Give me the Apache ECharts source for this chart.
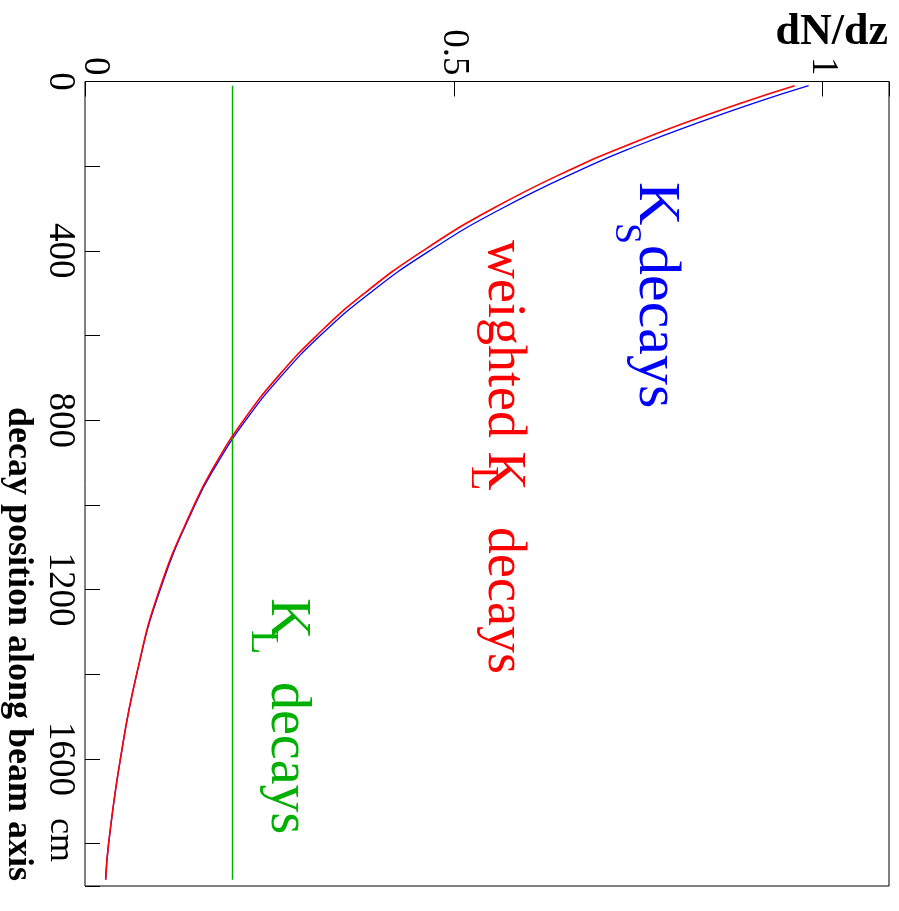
<!DOCTYPE html>
<html><head><meta charset="utf-8">
<script src="https://cdn.jsdelivr.net/npm/echarts@6/dist/echarts.min.js"></script>
<style>html,body{margin:0;padding:0;background:#fff}#c{width:899px;height:911px}</style>
</head><body><div id="c"></div>
<script>
// decay position along beam axis (cm)
const zPos = [10, 50, 100, 150, 200, 300, 400, 500, 600, 700, 800, 900, 1000, 1200, 1400, 1600, 1800, 1885];
// dN/dz, K_S decays (blue)
const ksDecays = [0.981, 0.909, 0.827, 0.751, 0.683, 0.565, 0.467, 0.386, 0.319, 0.264, 0.218, 0.180, 0.149, 0.102, 0.070, 0.048, 0.032, 0.028];
// dN/dz, weighted K_L decays (red)
const weightedKlDecays = [0.962, 0.891, 0.810, 0.736, 0.668, 0.553, 0.458, 0.379, 0.314, 0.260, 0.215, 0.178, 0.148, 0.101, 0.070, 0.048, 0.032, 0.028];
// K_L decays (green)
const klPos = [10, 400, 800, 1200, 1600, 1885];
const klDecays = [0.2, 0.2, 0.2, 0.2, 0.2, 0.2];
// tick labels
const dnTickLabels = {0: '{zero|0}', 0.5: '0.5', 1: '1'};
const zTickLabels = {0: '0', 400: '400', 800: '800', 1200: '1200', 1600: '1600'};

const SERIF = '"Liberation Serif", "DejaVu Serif", serif';
function pairs(zs, vs) { return zs.map((z, i) => [vs[i], z]); }

// rotated (reading top-to-bottom) text: baselineX = screen x of baseline, startY = screen y of start
function vtext(text, baselineX, startY, size, color, weight) {
  return {
    type: 'text',
    x: baselineX + 0.305 * size,
    y: startY,
    rotation: -Math.PI / 2,
    silent: true,
    style: {
      text: text,
      fill: color,
      font: (weight || 'normal') + ' ' + size + 'px ' + SERIF,
      textAlign: 'left',
      textVerticalAlign: 'middle',
      verticalAlign: 'middle'
    }
  };
}

const chart = echarts.init(document.getElementById('c'), null, {renderer: 'canvas'});
chart.setOption({
  animation: false,
  backgroundColor: '#fff',
  grid: {left: 85, right: 10, top: 81.5, bottom: 25, show: true, borderColor: '#000', borderWidth: 1, backgroundColor: 'transparent'},
  xAxis: {
    type: 'value', position: 'top', min: 0, max: 1.09, interval: 0.5,
    axisLine: {show: false},
    splitLine: {show: false},
    axisTick: {show: true, inside: true, length: 15, lineStyle: {color: '#000', width: 1}},
    axisLabel: {
      rotate: -90, margin: 6, color: '#000', fontFamily: SERIF, fontSize: 37,
      formatter: v => (dnTickLabels[v] !== undefined ? dnTickLabels[v] : ''),
      rich: {zero: {fontFamily: SERIF, fontSize: 37, color: '#000', padding: [0, 0, 20, 0]}}
    }
  },
  yAxis: {
    type: 'value', inverse: true, min: 0, max: 1900, interval: 200,
    axisLine: {show: false},
    splitLine: {show: false},
    axisTick: {show: true, inside: true, length: 15, lineStyle: {color: '#000', width: 1}},
    axisLabel: {
      rotate: -90, margin: 7, color: '#000', fontFamily: SERIF, fontSize: 37,
      formatter: v => (zTickLabels[v] !== undefined ? zTickLabels[v] : '')
    }
  },
  series: [
    {name: 'K_S decays', type: 'line', data: pairs(zPos, ksDecays), showSymbol: false, smooth: true,
     lineStyle: {color: '#0000ff', width: 1.3}, z: 2},
    {name: 'weighted K_L decays', type: 'line', data: pairs(zPos, weightedKlDecays), showSymbol: false, smooth: true,
     lineStyle: {color: '#ff0000', width: 1.6}, z: 3},
    {name: 'K_L decays', type: 'line', data: pairs(klPos, klDecays), showSymbol: false,
     lineStyle: {color: '#00b000', width: 1.5}, z: 2}
  ],
  graphic: [
    {type: 'text', x: 888, y: 46 - 0.305 * 44, silent: true,
     style: {text: 'dN/dz', fill: '#000', font: 'bold 44px ' + SERIF, textAlign: 'right', textVerticalAlign: 'middle', verticalAlign: 'middle'}},
    vtext('decay position along beam axis', 7, 407, 36, '#000', 'bold'),
    vtext('cm', 49, 818, 36, '#000'),
    // K_S decays (blue)
    vtext('K', 637, 182, 60, '#0000ff'),
    vtext('S', 614, 223, 38, '#0000ff'),
    vtext('decays', 637, 245, 60, '#0000ff'),
    // weighted K_L decays (red)
    vtext('weighted K', 487, 240, 54, '#ff0000'),
    vtext('L', 470, 466, 40, '#ff0000'),
    vtext('decays', 487, 527, 54, '#ff0000'),
    // K_L decays (green)
    vtext('K', 270, 598, 57, '#00b000'),
    vtext('L', 250, 630, 40, '#00b000'),
    vtext('decays', 270, 682, 56, '#00b000')
  ]
});
</script>
</body></html>
